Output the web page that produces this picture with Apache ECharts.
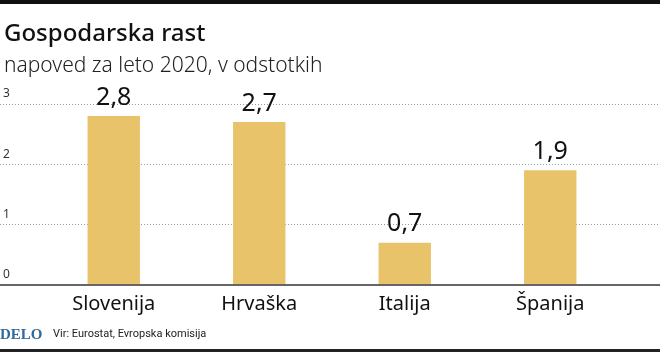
<!DOCTYPE html>
<html><head><meta charset="utf-8">
<script src="https://cdn.jsdelivr.net/npm/echarts@6/dist/echarts.min.js"></script>
<style>html,body{margin:0;padding:0;background:#fff}#c{width:660px;height:355px}</style>
</head><body><div id="c"></div>
<script>
const categories = ['Slovenija', 'Hrvaška', 'Italija', 'Španija'];
const values = [2.8, 2.7, 0.7, 1.9];
const yTicks = [0, 1, 2, 3];
const fmt = v => String(v).replace('.', ',');

const chart = echarts.init(document.getElementById('c'));
chart.setOption({
  animation: false,
  title: [
    {text: 'Gospodarska rast', left: -1, top: 17, textStyle: {fontFamily: 'Noto Sans', fontSize: 24, fontWeight: 500, color: '#111'}},
    {text: 'napoved za leto 2020, v odstotkih', left: -1, top: 51, textStyle: {fontFamily: 'Noto Sans', fontSize: 21, fontWeight: 300, color: '#222'}}
  ],
  grid: [
    {left: 0, right: 0, top: 104, bottom: 70},
    {left: 41, right: 37, top: 104, bottom: 70}
  ],
  xAxis: [
    {gridIndex: 0, type: 'category', data: categories, show: false},
    {gridIndex: 1, type: 'category', data: categories,
     axisLine: {show: false}, axisTick: {show: false},
     axisLabel: {fontFamily: 'Noto Sans', fontSize: 20, color: '#111', margin: 9}}
  ],
  yAxis: [
    {gridIndex: 0, type: 'value', min: 0, max: 3, interval: 1,
     axisLine: {show: false}, axisTick: {show: false},
     splitLine: {show: true, lineStyle: {color: '#999', type: [1, 2], width: 1}},
     axisLabel: {inside: true, margin: 3, align: 'left', verticalAlign: 'bottom', fontFamily: 'Noto Sans', fontSize: 12, color: '#333', padding: [0, 0, 4, 0],
       formatter: v => yTicks.includes(v) ? String(v) : ''}},
    {gridIndex: 1, type: 'value', min: 0, max: 3, interval: 1, show: false, splitLine: {show: false}}
  ],
  series: [
    {type: 'bar', xAxisIndex: 1, yAxisIndex: 1, data: values, barWidth: '36%',
     itemStyle: {color: '#E8C36A'},
     label: {show: true, position: 'top', distance: 6, formatter: p => fmt(p.value),
       fontFamily: 'Noto Sans', fontSize: 25, color: '#111'}},
    {type: 'line', xAxisIndex: 0, yAxisIndex: 0, data: [], silent: true,
     markLine: {symbol: 'none', silent: true, label: {show: false},
       lineStyle: {color: '#666', width: 2, type: 'solid'}, data: [{yAxis: 0}]}}
  ],
  graphic: [
    {type: 'rect', shape: {x: 0, y: 0, width: 660, height: 4}, style: {fill: '#111'}},
    {type: 'rect', shape: {x: 0, y: 349, width: 660, height: 3}, style: {fill: '#222'}},
    {type: 'text', left: 0, top: 328, style: {text: 'DELO', font: 'bold 15px "Liberation Serif", serif', fill: '#2f6a9b'}},
    {type: 'text', left: 53, top: 329, style: {text: 'Vir: Eurostat, Evropska komisija', font: '11px Roboto', fill: '#222'}}
  ]
});
</script></body></html>
